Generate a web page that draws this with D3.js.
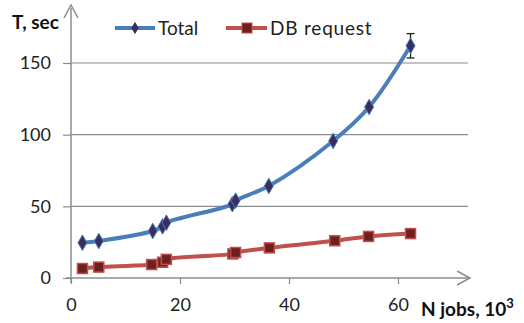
<!DOCTYPE html>
<html><head><meta charset="utf-8">
<script src="https://cdn.jsdelivr.net/npm/d3@7"></script>
<style>body{margin:0;background:#fff}svg{display:block}text{font-family:Lato,"Open Sans",sans-serif}</style>
</head><body><div id="c"></div>
<script>
const xTicks = [0, 20, 40, 60];
const yTicks = [0, 50, 100, 150];
const totalX = [2.1, 5.1, 15.0, 16.8, 17.5, 29.6, 30.2, 36.3, 48.1, 54.7, 62.3];
const totalY = [24.6, 25.8, 32.8, 36.0, 38.6, 51.5, 54.0, 64.2, 95.6, 119.3, 162];
const totalErr = [0, 0, 0, 0, 0, 0, 0, 0, 0, 0, 8.5];
const dbX = [2.1, 5.1, 14.8, 16.8, 17.5, 29.7, 30.2, 36.4, 48.4, 54.6, 62.3];
const dbY = [6.6, 7.6, 9.4, 11.0, 13.0, 16.8, 17.8, 21.0, 26.0, 29.0, 31.0];
const dbErr = [1.8, 1.8, 1.8, 1.8, 1.8, 1.8, 1.8, 1.8, 1.8, 1.8, 1.8];
const seriesNames = ["Total", "DB request"];

const W = 524, H = 323;
const svg = d3.select("#c").append("svg").attr("width", W).attr("height", H);
const x = d3.scaleLinear().domain([0, 60]).range([71, 398]);
const y = d3.scaleLinear().domain([0, 150]).range([278, 63]);
const axisCol = "#8c8c8c";
const FF = "Lato,'Open Sans',sans-serif";

// gridlines
svg.append("g").selectAll("line").data(yTicks.filter(d => d > 0)).join("line")
  .attr("x1", 71).attr("x2", 468).attr("y1", d => y(d)).attr("y2", d => y(d))
  .attr("stroke", axisCol).attr("stroke-width", 1.2);

// y axis
const ya = svg.append("g").attr("transform", "translate(71,0)")
  .call(d3.axisLeft(y).tickValues(yTicks).tickSize(8).tickPadding(12).tickFormat(d3.format("d")));
ya.select(".domain").remove();
ya.selectAll("line").attr("stroke", axisCol).attr("stroke-width", 1.2);
ya.selectAll("text").attr("font-size", 18).attr("fill", "#222").style("font-family", FF);
svg.append("line").attr("x1", 71).attr("x2", 71).attr("y1", 283).attr("y2", 8).attr("stroke", axisCol).attr("stroke-width", 1.5);
svg.append("path").attr("d", "M64,18 L71,5 L78,18").attr("fill", "none").attr("stroke", axisCol).attr("stroke-width", 1.5);

// x axis
const xa = svg.append("g").attr("transform", "translate(0,278)")
  .call(d3.axisBottom(x).tickValues(xTicks).tickSize(6).tickPadding(14).tickFormat(d3.format("d")));
xa.select(".domain").remove();
xa.selectAll("line").attr("stroke", axisCol).attr("stroke-width", 1.2);
xa.selectAll("text").attr("font-size", 18).attr("fill", "#222").style("font-family", FF);
svg.append("line").attr("x1", 66).attr("x2", 470).attr("y1", 278).attr("y2", 278).attr("stroke", axisCol).attr("stroke-width", 1.5);
svg.append("path").attr("d", "M457,271 L470,278 L457,285").attr("fill", "none").attr("stroke", axisCol).attr("stroke-width", 1.5);

// axis titles
svg.append("text").attr("x", 12).attr("y", 29).attr("font-size", 19).attr("font-weight", "bold").attr("fill", "#111").text("T, sec");
const xt = svg.append("text").attr("x", 421).attr("y", 316).attr("font-size", 19).attr("font-weight", "bold").attr("fill", "#111");
xt.append("tspan").text("N jobs, 10");
xt.append("tspan").attr("dy", -8).attr("font-size", 13).text("3");

const line = d3.line().x(d => x(d[0])).y(d => y(d[1])).curve(d3.curveCatmullRom.alpha(0.5));
const totalData = totalX.map((v, i) => [v, totalY[i], totalErr[i]]);
const dbData = dbX.map((v, i) => [v, dbY[i], dbErr[i]]);

function errBars(data, col) {
  const g = svg.append("g");
  data.filter(d => d[2] > 0).forEach(d => {
    g.append("line").attr("x1", x(d[0])).attr("x2", x(d[0])).attr("y1", y(d[1] - d[2])).attr("y2", y(d[1] + d[2])).attr("stroke", col).attr("stroke-width", 1.3);
    [d[1] - d[2], d[1] + d[2]].forEach(v => g.append("line").attr("x1", x(d[0]) - 4).attr("x2", x(d[0]) + 4).attr("y1", y(v)).attr("y2", y(v)).attr("stroke", col).attr("stroke-width", 1.3));
  });
}
function errBarsSmall(data, col) {
  const g = svg.append("g");
  data.forEach(d => {
    g.append("line").attr("x1", x(d[0])).attr("x2", x(d[0])).attr("y1", y(d[1])).attr("y2", y(d[1] - d[2])).attr("stroke", col).attr("stroke-width", 1.2);
  });
}

errBarsSmall(dbData, "#222");
svg.append("path").datum(dbData).attr("d", line).attr("fill", "none").attr("stroke", "#c0504d").attr("stroke-width", 4);
svg.append("g").selectAll("rect").data(dbData).join("rect")
  .attr("x", d => x(d[0]) - 5).attr("y", d => y(d[1]) - 5).attr("width", 10).attr("height", 10)
  .attr("fill", "#6e1f1f").attr("stroke", "#c0504d").attr("stroke-width", 1.5);

errBars(totalData, "#222");
svg.append("path").datum(totalData).attr("d", line).attr("fill", "none").attr("stroke", "#4a7ebb").attr("stroke-width", 4);
const diamond = d3.symbol().type(d3.symbolDiamond).size(70);
svg.append("g").selectAll("path").data(totalData).join("path")
  .attr("transform", d => `translate(${x(d[0])},${y(d[1])})`).attr("d", diamond)
  .attr("fill", "#3b2e5e").attr("stroke", "#4a7ebb").attr("stroke-width", 1);

// legend
const lg = svg.append("g");
lg.append("line").attr("x1", 115).attr("x2", 155).attr("y1", 28).attr("y2", 28).attr("stroke", "#4a7ebb").attr("stroke-width", 4);
lg.append("path").attr("transform", "translate(135,28)").attr("d", d3.symbol().type(d3.symbolDiamond).size(45)).attr("fill", "#3b2e5e");
lg.append("text").attr("x", 158).attr("y", 35).attr("font-size", 19).attr("fill", "#222").text(seriesNames[0]);
lg.append("line").attr("x1", 226).attr("x2", 267).attr("y1", 28).attr("y2", 28).attr("stroke", "#c0504d").attr("stroke-width", 4);
lg.append("rect").attr("x", 242).attr("y", 23).attr("width", 10).attr("height", 10).attr("fill", "#6e1f1f").attr("stroke", "#c0504d");
lg.append("text").attr("x", 270).attr("y", 35).attr("font-size", 19).attr("letter-spacing", 0.8).attr("fill", "#222").text(seriesNames[1]);
</script></body></html>
